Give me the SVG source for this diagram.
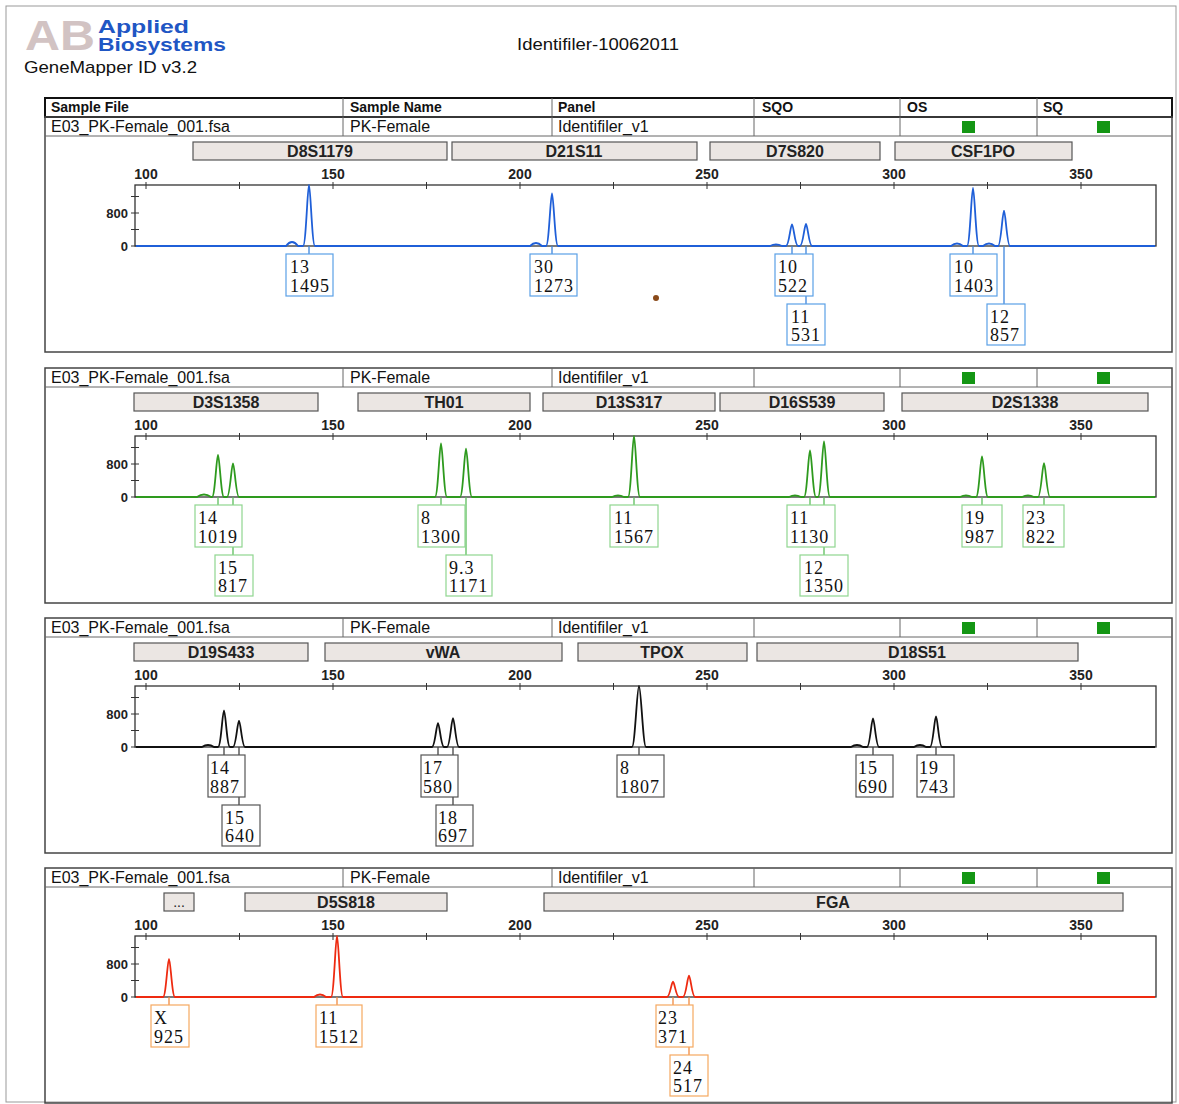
<svg xmlns="http://www.w3.org/2000/svg" width="1179" height="1104" viewBox="0 0 1179 1104">
<style>
.page{fill:#fff;stroke:#999;stroke-width:1}
.frame{fill:none;stroke:#444;stroke-width:1.5}
.hdr{fill:none;stroke:#111;stroke-width:2}
.div{stroke:#666;stroke-width:1;fill:none}
.cell{font-family:"Liberation Sans",Arial,sans-serif;font-size:16px;fill:#111}
.hcell{font-family:"Liberation Sans",Arial,sans-serif;font-size:14px;font-weight:bold;fill:#111}
.ok{fill:#149614}
.mk rect{fill:#ebe6e3;stroke:#555;stroke-width:1.2}
.mk text{font-family:"Liberation Sans",Arial,sans-serif;font-size:16px;font-weight:bold;fill:#222;text-anchor:middle}
.plot{fill:#fff;stroke:#333;stroke-width:1.3}
.tick{stroke:#333;stroke-width:1;fill:none}
.sc{font-family:"Liberation Sans",Arial,sans-serif;font-size:14px;font-weight:bold;fill:#222;text-anchor:middle}
.yl{font-family:"Liberation Sans",Arial,sans-serif;font-size:13px;font-weight:bold;fill:#222;text-anchor:end}
.tr{fill:none;stroke-width:1.8;stroke-linejoin:round}
.lb rect{fill:#fff;stroke-width:1.2}
.lb text{font-family:"Liberation Serif","Times New Roman",serif;font-size:18px;letter-spacing:1px;fill:#111}
.b rect{stroke:#5aa0e6}
.g rect{stroke:#8fd68f}
.k rect{stroke:#555}
.o rect{stroke:#f6a860}
.cn{fill:none;stroke-width:1.3}
.title{font-family:"Liberation Sans",Arial,sans-serif;fill:#111}
</style>
<rect class="page" x="6" y="6" width="1170" height="1096"/>

<g id="header">
  <text x="25" y="50" font-family="Liberation Sans, Arial, sans-serif" font-size="42" font-weight="bold" fill="#d2c3c3" textLength="70" lengthAdjust="spacingAndGlyphs">AB</text>
  <text x="98" y="33" font-family="Liberation Sans, Arial, sans-serif" font-size="18" font-weight="bold" fill="#1f56c4" textLength="91" lengthAdjust="spacingAndGlyphs">Applied</text>
  <text x="98" y="51" font-family="Liberation Sans, Arial, sans-serif" font-size="18" font-weight="bold" fill="#1f56c4" textLength="128" lengthAdjust="spacingAndGlyphs">Biosystems</text>
  <text class="title" x="24" y="73" font-size="17" textLength="173" lengthAdjust="spacingAndGlyphs">GeneMapper ID v3.2</text>
  <text class="title" x="517" y="50" font-size="16" textLength="162" lengthAdjust="spacingAndGlyphs">Identifiler-10062011</text>
  <circle cx="656" cy="298" r="3" fill="#8a4a1a"/>
</g>

<g id="table-header">
  <rect class="hdr" x="45" y="98" width="1127" height="19"/>
  <path class="div" d="M343,98V117M552,98V117M754,98V117M900,98V117M1037,98V117"/>
  <text class="hcell" x="51" y="112">Sample File</text>
  <text class="hcell" x="350" y="112">Sample Name</text>
  <text class="hcell" x="558" y="112">Panel</text>
  <text class="hcell" x="762" y="112">SQO</text>
  <text class="hcell" x="907" y="112">OS</text>
  <text class="hcell" x="1043" y="112">SQ</text>
</g>

<!-- PANEL 1 (blue) -->
<g id="panel1">
  <rect class="frame" x="45" y="117" width="1127" height="235"/>
  <line class="div" x1="45" y1="136" x2="1172" y2="136"/>
  <path class="div" d="M343,117V136M552,117V136M754,117V136M900,117V136M1037,117V136"/>
  <text class="cell" x="51" y="132">E03_PK-Female_001.fsa</text>
  <text class="cell" x="350" y="132">PK-Female</text>
  <text class="cell" x="558" y="132">Identifiler_v1</text>
  <rect class="ok" x="962" y="121" width="13" height="12"/>
  <rect class="ok" x="1097" y="121" width="13" height="12"/>
  <g class="mk">
    <rect x="193" y="142" width="254" height="18"/><text x="320" y="157">D8S1179</text>
    <rect x="452" y="142" width="245" height="18"/><text x="574" y="157">D21S11</text>
    <rect x="710" y="142" width="170" height="18"/><text x="795" y="157">D7S820</text>
    <rect x="895" y="142" width="177" height="18"/><text x="983" y="157">CSF1PO</text>
  </g>
  <rect class="plot" x="135" y="185" width="1021" height="61"/>
  <path class="tick" d="M146,182V189M239.5,182V189M333,182V189M426.5,182V189M520,182V189M613.5,182V189M707,182V189M800.5,182V189M894,182V189M987.5,182V189M1081,182V189M131,196.5H139M131,213H139M131,229.5H139M131,246H139"/>
  <text class="sc" x="146" y="179">100</text><text class="sc" x="333" y="179">150</text><text class="sc" x="520" y="179">200</text><text class="sc" x="707" y="179">250</text><text class="sc" x="894" y="179">300</text><text class="sc" x="1081" y="179">350</text>
  <text class="yl" x="128" y="217.5">800</text><text class="yl" x="128" y="250.5">0</text>
  <path class="tr" stroke="#1f5fd8" d="M136,246 L286,246 Q292,238 298,246 L303,246 C306,246 307.5,185 309,185 C310.5,185 312,246 315,246 L530,246 Q536,240 542,246 L546,246 C549,246 550.5,193.5 552,193.5 C553.5,193.5 555,246 558,246 L770,246 Q776,243 782,246 L786,246 C789,246 790.5,224.5 792,224.5 C793.5,224.5 795,246 798,246 L800,246 C803,246 804.5,224 806,224 C807.5,224 809,246 812,246 L951,246 Q957,241 963,246 L967,246 C970,246 971.5,188 973,188 C974.5,188 976,246 979,246 L983,246 Q989,241 995,246 L998,246 C1001,246 1002.5,210.6 1004,210.6 C1005.5,210.6 1007,246 1010,246 L1155,246"/>
</g>

<!-- PANEL 2 (green) -->
<g id="panel2" transform="translate(0,251)">
  <rect class="frame" x="45" y="117" width="1127" height="235"/>
  <line class="div" x1="45" y1="136" x2="1172" y2="136"/>
  <path class="div" d="M343,117V136M552,117V136M754,117V136M900,117V136M1037,117V136"/>
  <text class="cell" x="51" y="132">E03_PK-Female_001.fsa</text>
  <text class="cell" x="350" y="132">PK-Female</text>
  <text class="cell" x="558" y="132">Identifiler_v1</text>
  <rect class="ok" x="962" y="121" width="13" height="12"/>
  <rect class="ok" x="1097" y="121" width="13" height="12"/>
  <g class="mk">
    <rect x="134" y="142" width="184" height="18"/><text x="226" y="157">D3S1358</text>
    <rect x="358" y="142" width="172" height="18"/><text x="444" y="157">TH01</text>
    <rect x="543" y="142" width="172" height="18"/><text x="629" y="157">D13S317</text>
    <rect x="720" y="142" width="164" height="18"/><text x="802" y="157">D16S539</text>
    <rect x="902" y="142" width="246" height="18"/><text x="1025" y="157">D2S1338</text>
  </g>
  <rect class="plot" x="135" y="185" width="1021" height="61"/>
  <path class="tick" d="M146,182V189M239.5,182V189M333,182V189M426.5,182V189M520,182V189M613.5,182V189M707,182V189M800.5,182V189M894,182V189M987.5,182V189M1081,182V189M131,196.5H139M131,213H139M131,229.5H139M131,246H139"/>
  <text class="sc" x="146" y="179">100</text><text class="sc" x="333" y="179">150</text><text class="sc" x="520" y="179">200</text><text class="sc" x="707" y="179">250</text><text class="sc" x="894" y="179">300</text><text class="sc" x="1081" y="179">350</text>
  <text class="yl" x="128" y="217.5">800</text><text class="yl" x="128" y="250.5">0</text>
  <path class="tr" stroke="#2e9a1e" d="M136,246 L197,246 Q204,241 211,246 L212,246 C215,246 216.5,204 218,204 C219.5,204 221,246 224,246 L227,246 C230,246 231.5,212.3 233,212.3 C234.5,212.3 236,246 239,246 L435,246 C438,246 439.5,192.4 441,192.4 C442.5,192.4 444,246 447,246 L460,246 C463,246 464.5,197.7 466,197.7 C467.5,197.7 469,246 472,246 L612,246 Q618,243 624,246 L628,246 C631,246 632.5,185 634,185 C635.5,185 637,246 640,246 L789,246 Q795,243 801,246 L804,246 C807,246 808.5,199.4 810,199.4 C811.5,199.4 813,246 816,246 L818,246 C821,246 822.5,190.3 824,190.3 C825.5,190.3 827,246 830,246 L960,246 Q966,243 972,246 L976,246 C979,246 980.5,205.3 982,205.3 C983.5,205.3 985,246 988,246 L1022,246 Q1028,243 1034,246 L1038,246 C1041,246 1042.5,212.1 1044,212.1 C1045.5,212.1 1047,246 1050,246 L1155,246"/>
</g>

<!-- PANEL 3 (black) -->
<g id="panel3" transform="translate(0,501)">
  <rect class="frame" x="45" y="117" width="1127" height="235"/>
  <line class="div" x1="45" y1="136" x2="1172" y2="136"/>
  <path class="div" d="M343,117V136M552,117V136M754,117V136M900,117V136M1037,117V136"/>
  <text class="cell" x="51" y="132">E03_PK-Female_001.fsa</text>
  <text class="cell" x="350" y="132">PK-Female</text>
  <text class="cell" x="558" y="132">Identifiler_v1</text>
  <rect class="ok" x="962" y="121" width="13" height="12"/>
  <rect class="ok" x="1097" y="121" width="13" height="12"/>
  <g class="mk">
    <rect x="134" y="142" width="174" height="18"/><text x="221" y="157">D19S433</text>
    <rect x="325" y="142" width="237" height="18"/><text x="443" y="157">vWA</text>
    <rect x="578" y="142" width="169" height="18"/><text x="662" y="157">TPOX</text>
    <rect x="757" y="142" width="321" height="18"/><text x="917" y="157">D18S51</text>
  </g>
  <rect class="plot" x="135" y="185" width="1021" height="61"/>
  <path class="tick" d="M146,182V189M239.5,182V189M333,182V189M426.5,182V189M520,182V189M613.5,182V189M707,182V189M800.5,182V189M894,182V189M987.5,182V189M1081,182V189M131,196.5H139M131,213H139M131,229.5H139M131,246H139"/>
  <text class="sc" x="146" y="179">100</text><text class="sc" x="333" y="179">150</text><text class="sc" x="520" y="179">200</text><text class="sc" x="707" y="179">250</text><text class="sc" x="894" y="179">300</text><text class="sc" x="1081" y="179">350</text>
  <text class="yl" x="128" y="217.5">800</text><text class="yl" x="128" y="250.5">0</text>
  <path class="tr" stroke="#111" d="M136,246 L202,246 Q208,242 214,246 L218,246 C221,246 222.5,209.4 224,209.4 C225.5,209.4 227,246 230,246 L233,246 C236,246 237.5,219.6 239,219.6 C240.5,219.6 242,246 245,246 L432,246 C435,246 436.5,222.1 438,222.1 C439.5,222.1 441,246 444,246 L447,246 C450,246 451.5,217.2 453,217.2 C454.5,217.2 456,246 459,246 L632,246 C635,246 637,185 639,185 C641,185 643,246 646,246 L851,246 Q857,242 863,246 L867,246 C870,246 871.5,217.5 873,217.5 C874.5,217.5 876,246 879,246 L914,246 Q920,242 926,246 L930,246 C933,246 934.5,215.4 936,215.4 C937.5,215.4 939,246 942,246 L1155,246"/>
</g>

<!-- PANEL 4 (red) -->
<g id="panel4" transform="translate(0,751)">
  <rect class="frame" x="45" y="117" width="1127" height="235"/>
  <line class="div" x1="45" y1="136" x2="1172" y2="136"/>
  <path class="div" d="M343,117V136M552,117V136M754,117V136M900,117V136M1037,117V136"/>
  <text class="cell" x="51" y="132">E03_PK-Female_001.fsa</text>
  <text class="cell" x="350" y="132">PK-Female</text>
  <text class="cell" x="558" y="132">Identifiler_v1</text>
  <rect class="ok" x="962" y="121" width="13" height="12"/>
  <rect class="ok" x="1097" y="121" width="13" height="12"/>
  <g class="mk">
    <rect x="164" y="142" width="30" height="18"/><text x="179" y="156" style="font-weight:normal;font-size:14px">...</text>
    <rect x="245" y="142" width="202" height="18"/><text x="346" y="157">D5S818</text>
    <rect x="544" y="142" width="579" height="18"/><text x="833" y="157">FGA</text>
  </g>
  <rect class="plot" x="135" y="185" width="1021" height="61"/>
  <path class="tick" d="M146,182V189M239.5,182V189M333,182V189M426.5,182V189M520,182V189M613.5,182V189M707,182V189M800.5,182V189M894,182V189M987.5,182V189M1081,182V189M131,196.5H139M131,213H139M131,229.5H139M131,246H139"/>
  <text class="sc" x="146" y="179">100</text><text class="sc" x="333" y="179">150</text><text class="sc" x="520" y="179">200</text><text class="sc" x="707" y="179">250</text><text class="sc" x="894" y="179">300</text><text class="sc" x="1081" y="179">350</text>
  <text class="yl" x="128" y="217.5">800</text><text class="yl" x="128" y="250.5">0</text>
  <path class="tr" stroke="#ee2a10" d="M136,246 L163,246 C166,246 167.5,207.8 169,207.8 C170.5,207.8 172,246 175,246 L314,246 Q320,241 326,246 L331,246 C334,246 335.5,185 337,185 C338.5,185 340,246 343,246 L667,246 C670,246 671.5,230.7 673,230.7 C674.5,230.7 676,246 679,246 L683,246 C686,246 687.5,224.7 689,224.7 C690.5,224.7 692,246 695,246 L1155,246"/>
</g>

<!-- CONNECTORS -->
<g id="connectors">
  <path class="cn" stroke="#3d86dd" d="M309,246V254M552,246V254M792,246V254M806,246V304M973,246V254M1004,246V304"/>
  <path class="cn" stroke="#5cbf5c" transform="translate(0,251)" d="M218,246V254M233,246V304M441,246V254M466,246V304M634,246V254M810,246V254M824,246V304M982,246V254M1044,246V254"/>
  <path class="cn" stroke="#444" transform="translate(0,501)" d="M224,246V254M239,246V304M438,246V254M453,246V304M639,246V254M873,246V254M936,246V254"/>
  <path class="cn" stroke="#f08a40" transform="translate(0,751)" d="M169,246V254M337,246V254M673,246V254M689,246V304"/>
</g>

<!-- LABEL NODES -->
<g id="labels-p1">
  <g id="p1-13" class="lb b"><rect x="286" y="254" width="47" height="42"/><text x="290" y="273">13</text><text x="290" y="292">1495</text></g>
  <g id="p1-30" class="lb b"><rect x="530" y="254" width="47" height="42"/><text x="534" y="273">30</text><text x="534" y="292">1273</text></g>
  <g id="p1-10a" class="lb b"><rect x="775" y="254" width="38" height="42"/><text x="778" y="273">10</text><text x="778" y="292">522</text></g>
  <g id="p1-11" class="lb b"><rect x="787" y="304" width="38" height="41"/><text x="791" y="323">11</text><text x="791" y="341">531</text></g>
  <g id="p1-10b" class="lb b"><rect x="950" y="254" width="47" height="42"/><text x="954" y="273">10</text><text x="954" y="292">1403</text></g>
  <g id="p1-12" class="lb b"><rect x="987" y="304" width="38" height="41"/><text x="990" y="323">12</text><text x="990" y="341">857</text></g>
</g>
<g id="labels-p2" transform="translate(0,251)">
  <g id="p2-14" class="lb g"><rect x="195" y="254" width="47" height="42"/><text x="198" y="273">14</text><text x="198" y="292">1019</text></g>
  <g id="p2-15" class="lb g"><rect x="215" y="304" width="38" height="41"/><text x="218" y="323">15</text><text x="218" y="341">817</text></g>
  <g id="p2-8" class="lb g"><rect x="418" y="254" width="47" height="42"/><text x="421" y="273">8</text><text x="421" y="292">1300</text></g>
  <g id="p2-93" class="lb g"><rect x="446" y="304" width="46" height="41"/><text x="449" y="323">9.3</text><text x="449" y="341">1171</text></g>
  <g id="p2-11a" class="lb g"><rect x="610" y="254" width="48" height="42"/><text x="614" y="273">11</text><text x="614" y="292">1567</text></g>
  <g id="p2-11b" class="lb g"><rect x="787" y="254" width="48" height="42"/><text x="790" y="273">11</text><text x="790" y="292">1130</text></g>
  <g id="p2-12" class="lb g"><rect x="800" y="304" width="48" height="41"/><text x="804" y="323">12</text><text x="804" y="341">1350</text></g>
  <g id="p2-19" class="lb g"><rect x="962" y="254" width="40" height="42"/><text x="965" y="273">19</text><text x="965" y="292">987</text></g>
  <g id="p2-23" class="lb g"><rect x="1023" y="254" width="41" height="42"/><text x="1026" y="273">23</text><text x="1026" y="292">822</text></g>
</g>
<g id="labels-p3" transform="translate(0,501)">
  <g id="p3-14" class="lb k"><rect x="208" y="254" width="37" height="42"/><text x="210" y="273">14</text><text x="210" y="292">887</text></g>
  <g id="p3-15" class="lb k"><rect x="222" y="304" width="38" height="41"/><text x="225" y="323">15</text><text x="225" y="341">640</text></g>
  <g id="p3-17" class="lb k"><rect x="421" y="254" width="37" height="42"/><text x="423" y="273">17</text><text x="423" y="292">580</text></g>
  <g id="p3-18" class="lb k"><rect x="436" y="304" width="37" height="41"/><text x="438" y="323">18</text><text x="438" y="341">697</text></g>
  <g id="p3-8" class="lb k"><rect x="617" y="254" width="47" height="42"/><text x="620" y="273">8</text><text x="620" y="292">1807</text></g>
  <g id="p3-15b" class="lb k"><rect x="856" y="254" width="37" height="42"/><text x="858" y="273">15</text><text x="858" y="292">690</text></g>
  <g id="p3-19" class="lb k"><rect x="917" y="254" width="37" height="42"/><text x="919" y="273">19</text><text x="919" y="292">743</text></g>
</g>
<g id="labels-p4" transform="translate(0,751)">
  <g id="p4-X" class="lb o"><rect x="151" y="254" width="38" height="42"/><text x="154" y="273">X</text><text x="154" y="292">925</text></g>
  <g id="p4-11" class="lb o"><rect x="316" y="254" width="46" height="42"/><text x="319" y="273">11</text><text x="319" y="292">1512</text></g>
  <g id="p4-23" class="lb o"><rect x="656" y="254" width="37" height="42"/><text x="658" y="273">23</text><text x="658" y="292">371</text></g>
  <g id="p4-24" class="lb o"><rect x="670" y="304" width="38" height="41"/><text x="673" y="323">24</text><text x="673" y="341">517</text></g>
</g>
</svg>
